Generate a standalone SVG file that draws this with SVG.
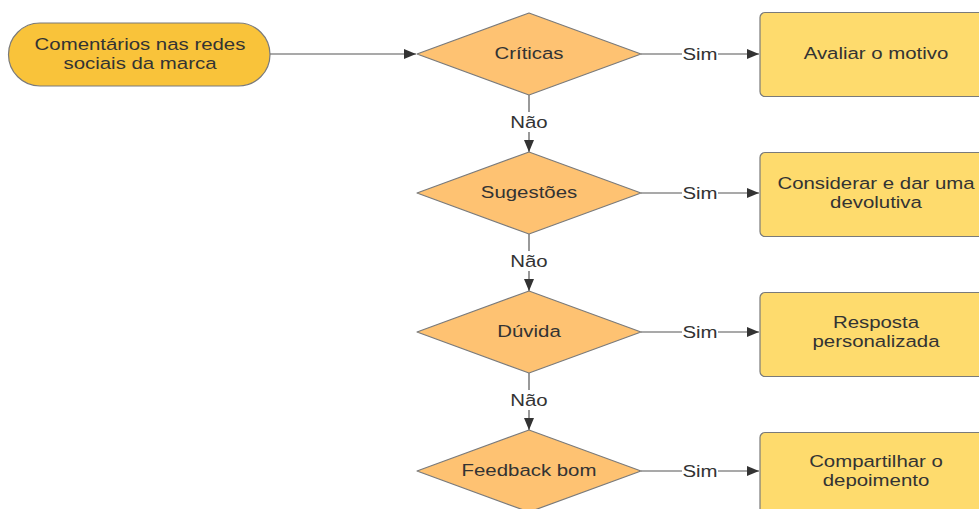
<svg xmlns="http://www.w3.org/2000/svg" width="979" height="509" viewBox="0 0 979 509">
<style>
.t{font-family:"Liberation Sans",Arial,sans-serif;font-size:17px;fill:#333;text-anchor:middle}
.start{fill:#F9C33A;stroke:#7a7a7a;stroke-width:1.2}
.dec{fill:#FEC272;stroke:#7a7a7a;stroke-width:1.2;stroke-linejoin:round}
.act{fill:#FEDB6D;stroke:#7a7a7a;stroke-width:1.2}
.ln{stroke:#555;stroke-width:1.2;fill:none}
.lbl{font-family:"Liberation Sans",Arial,sans-serif;font-size:17px;fill:#333;text-anchor:middle}
</style>
<defs>
<marker id="ah" markerWidth="12" markerHeight="10" refX="12" refY="5" orient="auto" markerUnits="userSpaceOnUse">
<path d="M0,0 L12,5 L0,10 Z" fill="#333"/>
</marker>
</defs>
<rect width="979" height="509" fill="#fff"/>
<g id="connectors">
<line class="ln" x1="270" y1="54" x2="416" y2="54" marker-end="url(#ah)"/>
<line class="ln" x1="641" y1="54" x2="682" y2="54"/><line class="ln" x1="718" y1="54" x2="759" y2="54" marker-end="url(#ah)"/>
<line class="ln" x1="641" y1="193" x2="682" y2="193"/><line class="ln" x1="718" y1="193" x2="759" y2="193" marker-end="url(#ah)"/>
<line class="ln" x1="641" y1="332" x2="682" y2="332"/><line class="ln" x1="718" y1="332" x2="759" y2="332" marker-end="url(#ah)"/>
<line class="ln" x1="641" y1="471" x2="682" y2="471"/><line class="ln" x1="718" y1="471" x2="759" y2="471" marker-end="url(#ah)"/>
<line class="ln" x1="529" y1="95" x2="529" y2="112"/><line class="ln" x1="529" y1="132" x2="529" y2="152" marker-end="url(#ah)"/>
<line class="ln" x1="529" y1="234" x2="529" y2="251"/><line class="ln" x1="529" y1="271" x2="529" y2="291" marker-end="url(#ah)"/>
<line class="ln" x1="529" y1="373" x2="529" y2="390"/><line class="ln" x1="529" y1="410" x2="529" y2="430" marker-end="url(#ah)"/>
<text class="lbl" transform="translate(700,54) scale(1.2,1)" y="6">Sim</text>
<text class="lbl" transform="translate(700,193) scale(1.2,1)" y="6">Sim</text>
<text class="lbl" transform="translate(700,332) scale(1.2,1)" y="6">Sim</text>
<text class="lbl" transform="translate(700,471) scale(1.2,1)" y="6">Sim</text>
<text class="lbl" transform="translate(529,122) scale(1.2,1)" y="6">Não</text>
<text class="lbl" transform="translate(529,261) scale(1.2,1)" y="6">Não</text>
<text class="lbl" transform="translate(529,400) scale(1.2,1)" y="6">Não</text>
</g>
<g id="start">
<rect class="start" x="8.5" y="23" width="261.5" height="63" rx="31.5"/>
<text class="t" transform="translate(140,54) scale(1.2,1)"><tspan x="0" y="-4">Comentários nas redes</tspan><tspan x="0" y="15">sociais da marca</tspan></text>
</g>
<g id="criticas">
<path class="dec" d="M529,13 L641,54 L529,95 L417,54 Z"/>
<text class="t" transform="translate(529,54) scale(1.2,1)" y="5">Críticas</text>
</g>
<g id="sugestoes">
<path class="dec" d="M529,152 L641,193 L529,234 L417,193 Z"/>
<text class="t" transform="translate(529,193) scale(1.2,1)" y="5">Sugestões</text>
</g>
<g id="duvida">
<path class="dec" d="M529,291 L641,332 L529,373 L417,332 Z"/>
<text class="t" transform="translate(529,332) scale(1.2,1)" y="5">Dúvida</text>
</g>
<g id="feedback">
<path class="dec" d="M529,430 L641,471 L529,512 L417,471 Z"/>
<text class="t" transform="translate(529,471) scale(1.2,1)" y="5">Feedback bom</text>
</g>
<g id="avaliar">
<rect class="act" x="760" y="12.5" width="232" height="84" rx="5"/>
<text class="t" transform="translate(876,54) scale(1.2,1)" y="5">Avaliar o motivo</text>
</g>
<g id="considerar">
<rect class="act" x="760" y="152.5" width="232" height="84" rx="5"/>
<text class="t" transform="translate(876,193) scale(1.2,1)"><tspan x="0" y="-4">Considerar e dar uma</tspan><tspan x="0" y="15">devolutiva</tspan></text>
</g>
<g id="resposta">
<rect class="act" x="760" y="292.5" width="232" height="84" rx="5"/>
<text class="t" transform="translate(876,332) scale(1.2,1)"><tspan x="0" y="-4">Resposta</tspan><tspan x="0" y="15">personalizada</tspan></text>
</g>
<g id="compartilhar">
<rect class="act" x="760" y="432.5" width="232" height="84" rx="5"/>
<text class="t" transform="translate(876,471) scale(1.2,1)"><tspan x="0" y="-4">Compartilhar o</tspan><tspan x="0" y="15">depoimento</tspan></text>
</g>
</svg>
